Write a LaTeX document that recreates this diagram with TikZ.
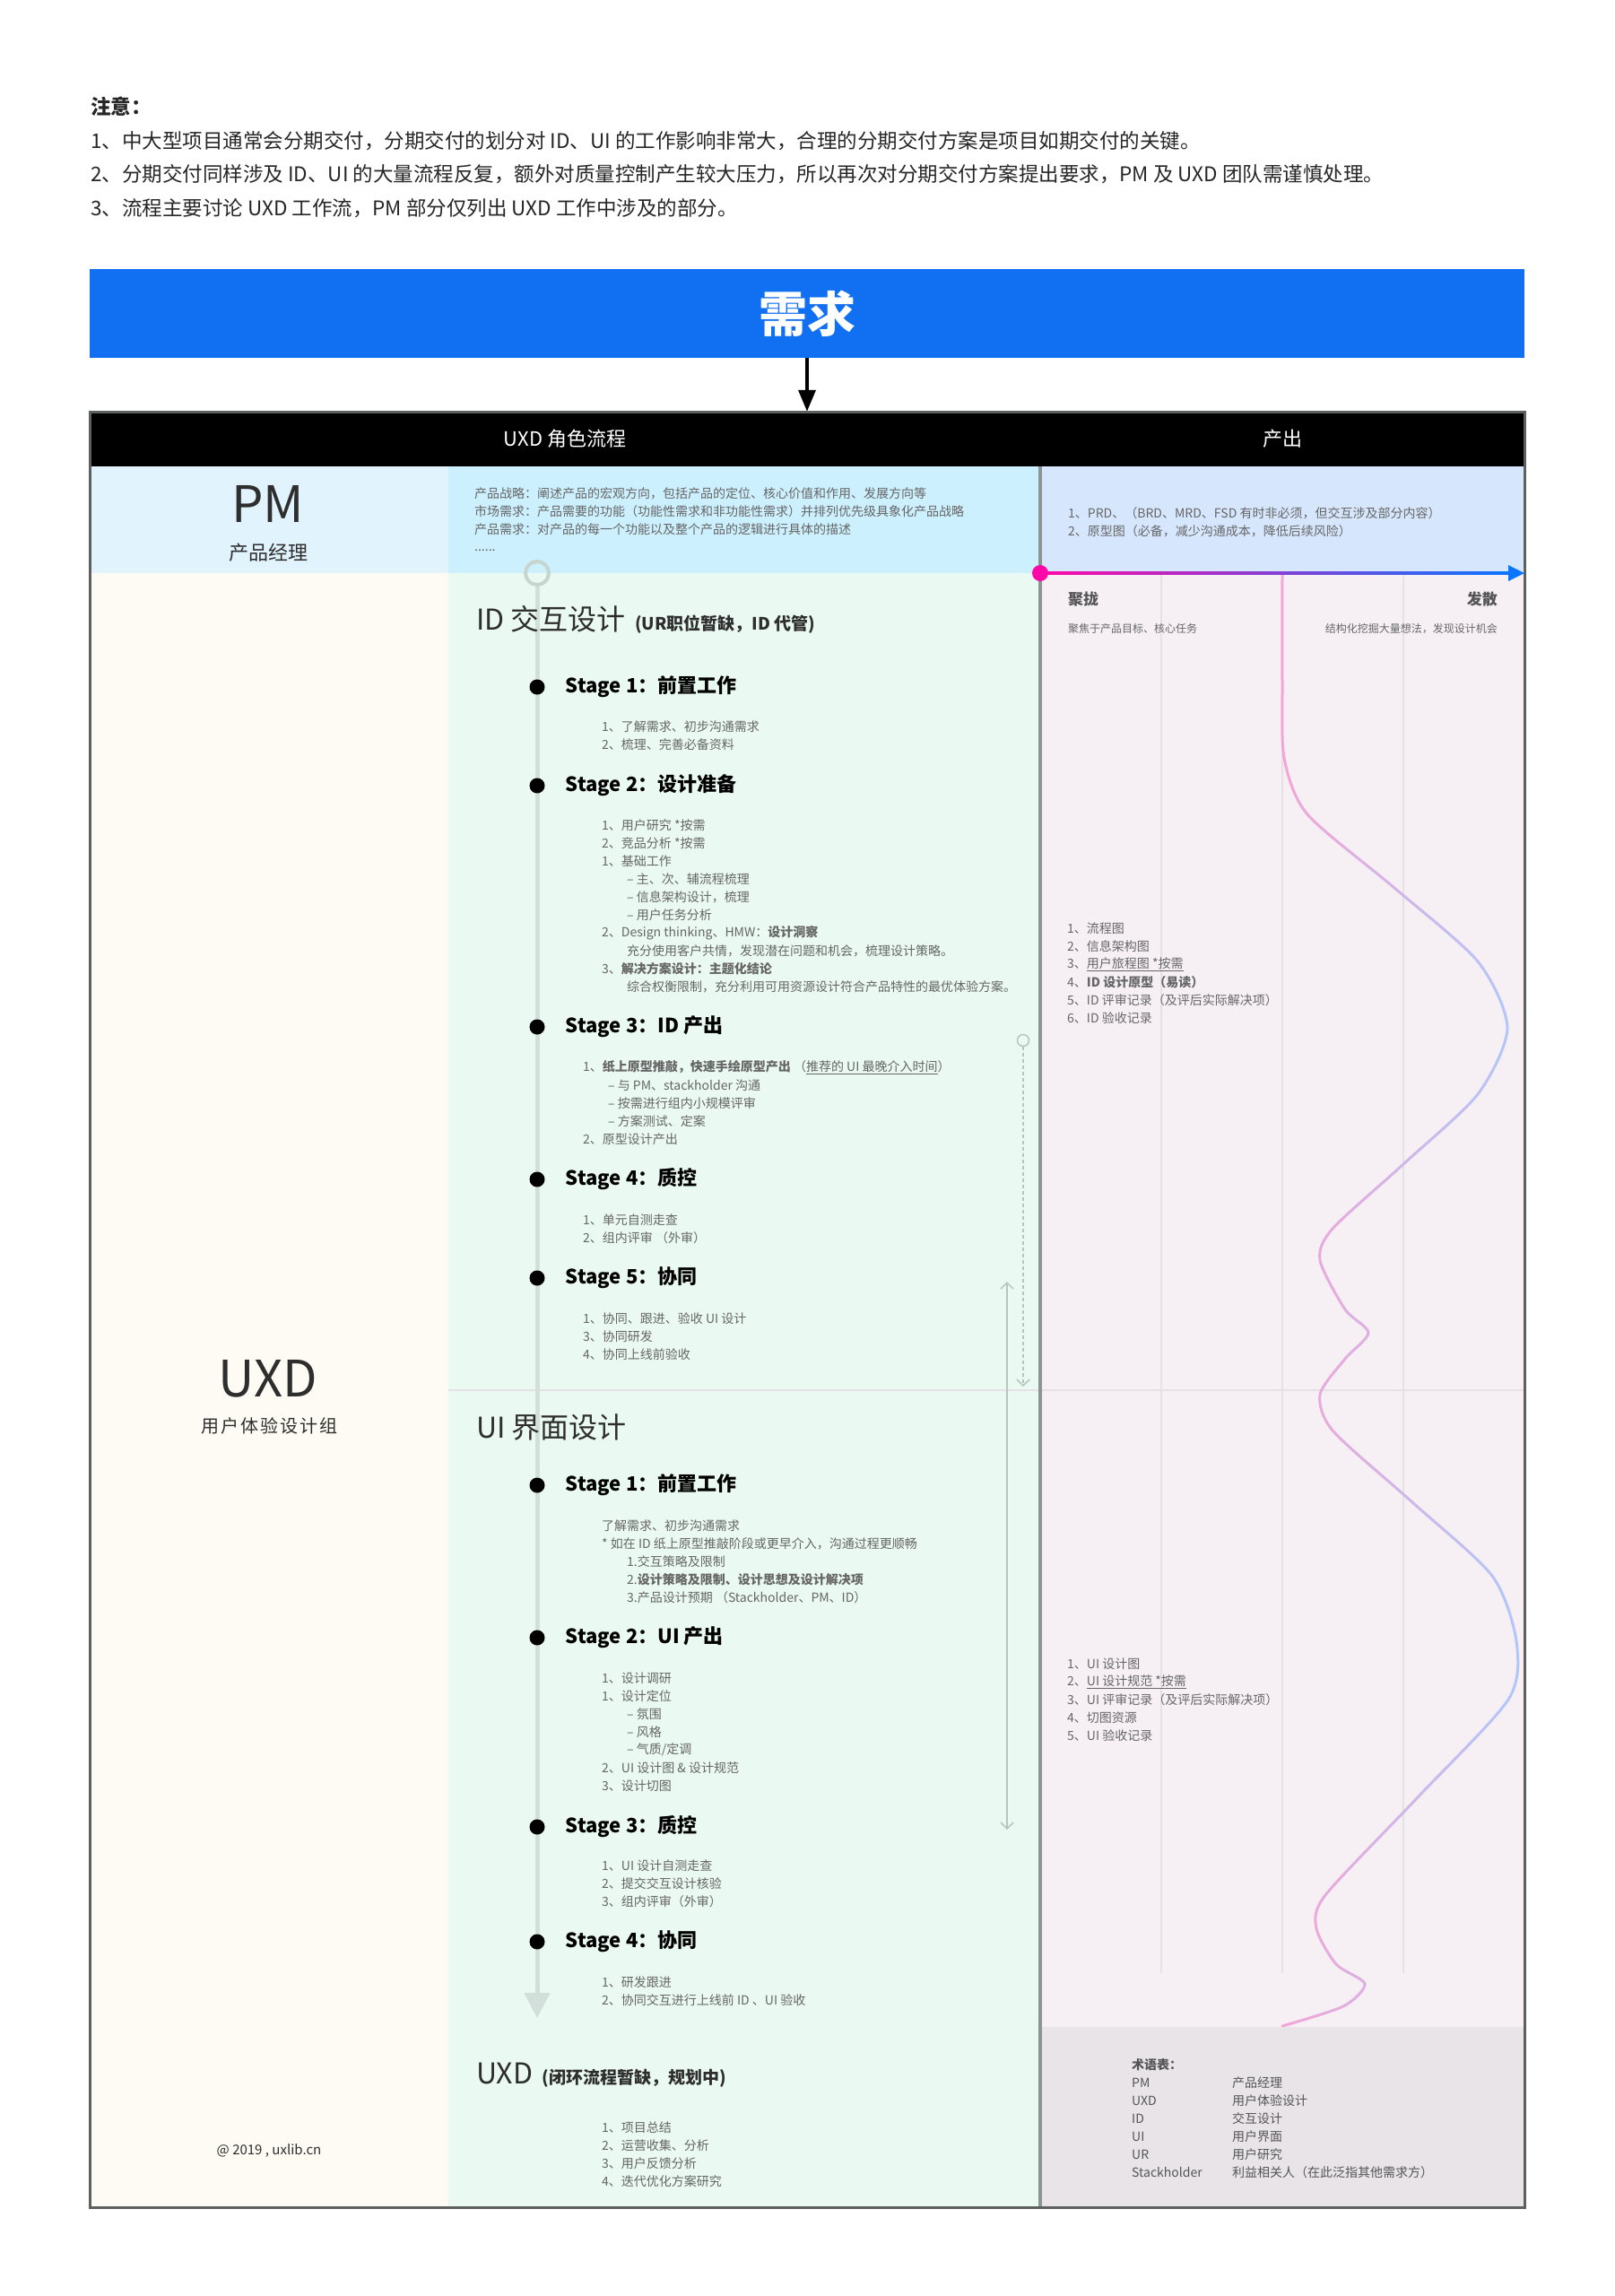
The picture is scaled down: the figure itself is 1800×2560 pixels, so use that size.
\documentclass[tikz,border=0pt]{standalone}
\usepackage{fontspec}
\setmainfont{Noto Sans CJK SC}
\usepackage{tikz}
\usetikzlibrary{positioning, arrows.meta, calc}

\definecolor{reqblue}{HTML}{1170F2}
\definecolor{pmleft}{HTML}{E1F3FD}
\definecolor{pmmid}{HTML}{CCF0FD}
\definecolor{pmright}{HTML}{D6E6FC}
\definecolor{colleft}{HTML}{FDFBF3}
\definecolor{colmid}{HTML}{EAF9F2}
\definecolor{colright}{HTML}{F6F0F5}
\definecolor{glossbg}{HTML}{E8E4E7}
\definecolor{tlgray}{HTML}{D3DFDA}
\definecolor{ringgray}{HTML}{C7D4CF}
\definecolor{guidegray}{HTML}{B8C5C0}
\definecolor{textgray}{HTML}{666666}
\definecolor{darktext}{HTML}{2E2E2E}
\definecolor{labelgray}{HTML}{555555}
\definecolor{sepgray}{HTML}{8E9494}
\definecolor{bordergray}{HTML}{5E6060}
\definecolor{faintline}{HTML}{E6E1E5}
\definecolor{wavepink}{HTML}{F3A5D6}
\definecolor{waveblue}{HTML}{B3C6F8}
\definecolor{fmagenta}{HTML}{FF08A8}
\definecolor{fblue}{HTML}{0A76FF}

\newcommand{\pxsize}[1]{\fontsize{#1}{#1}\selectfont}
\newcommand{\subind}{\hspace*{28pt}}
\newcommand{\wavecurve}{plot[smooth, tension=0.45] coordinates {(1430,639) (1430,760) (1432,845) (1458,908) (1555,990) (1648,1072) (1681,1146) (1648,1220) (1565,1298) (1486,1370) (1472,1405) (1500,1460) (1526,1486) (1500,1515) (1472,1555) (1487,1596) (1575,1675) (1664,1757) (1691,1830) (1682,1895) (1580,2005) (1478,2113) (1468,2150) (1490,2190) (1522,2212) (1498,2237) (1430,2259)}}

\begin{document}
\begin{tikzpicture}[x=1pt, y=-1pt, >=Stealth,
    note/.style={anchor=west, inner sep=0, font=\pxsize{22.5}, text=black!85},
    item/.style={anchor=west, inner sep=0, font=\pxsize{14}, text=textgray},
    stagehead/.style={inner sep=0, font=\pxsize{22}\bfseries, text=black},
    stagedot/.style={circle, fill=black, inner sep=0, minimum size=17pt},
    sechead/.style={anchor=west, inner sep=0, font=\pxsize{32}, text=darktext},
    secnote/.style={inner sep=0, font=\pxsize{19}\bfseries, text=darktext},
    headtext/.style={inner sep=0, font=\pxsize{22}, text=white},
    rolebig/.style={inner sep=0, font=\pxsize{56}, text=darktext},
    rolesub/.style={inner sep=0, font=\pxsize{22}, text=darktext},
    guide/.style={draw=guidegray, line width=1.5pt},
    faint/.style={draw=faintline, line width=1.5pt},
    wave/.style={line width=3pt, line cap=round}]

    \useasboundingbox (0,0) rectangle (1800,2560);
    \fill[white] (0,0) rectangle (1800,2560);

    % notes
    \node[note, font=\pxsize{22.5}\bfseries] (notehead) at (101,119) {注意：};
    \node[note] (note1) at (101,157) {1、中大型项目通常会分期交付，分期交付的划分对 ID、UI 的工作影响非常大，合理的分期交付方案是项目如期交付的关键。};
    \node[note] (note2) at (101,194) {2、分期交付同样涉及 ID、UI 的大量流程反复，额外对质量控制产生较大压力，所以再次对分期交付方案提出要求，PM 及 UXD 团队需谨慎处理。};
    \node[note] (note3) at (101,232) {3、流程主要讨论 UXD 工作流，PM 部分仅列出 UXD 工作中涉及的部分。};

    % requirement bar
    \node[fill=reqblue, minimum width=1600pt, minimum height=99pt, inner sep=0, font=\pxsize{54}\bfseries, text=white] (req) at (900,349.5) {需求};

    % table cells
    \fill[pmleft] (100,520) rectangle (500,639);
    \fill[pmmid] (500,520) rectangle (1160,639);
    \fill[pmright] (1160,520) rectangle (1700,639);
    \fill[colleft] (100,639) rectangle (500,2461);
    \fill[colmid] (500,639) rectangle (1160,2461);
    \fill[colright] (1160,639) rectangle (1700,2260);
    \fill[glossbg] (1160,2260) rectangle (1700,2461);
    \node[fill=black, minimum width=1600pt, minimum height=61pt, inner sep=0] (head) at (900,489.5) {};
    \node[headtext] (headflow) at (630,489.5) {UXD 角色流程};
    \node[headtext] (headout) at (1430,489.5) {产出};
    \draw[line width=3.5pt, -{Triangle[length=24pt, width=19pt]}] (req) -- (head);

    % faint grid
    \draw[faint] (500,1550) -- (1700,1550);
    \foreach \gx in {1295,1430,1565}
        \draw[faint] (\gx,639) -- (\gx,2200);

    % wave, pink to blue
    \foreach \i in {0,...,9} {
        \begin{scope}
            \clip (1416+28*\i,630) rectangle (1444+28*\i,2262);
            \pgfmathtruncatemacro\mixval{100-11*\i}
            \draw[wave, draw=wavepink!\mixval!waveblue] \wavecurve;
        \end{scope}
    }

    % separator and border
    \draw[sepgray, line width=4pt] (1160,520) -- (1160,2461);
    \draw[bordergray, line width=3pt] (100,459) rectangle (1700,2461);

    % gather / spread arrow
    \coordinate (fstart) at (1160,639);
    \coordinate (fend) at (1700,639);
    \shade[left color=fmagenta, right color=fblue] ($(fstart)+(0,-1.5)$) rectangle ($(fend)+(-16,1.5)$);
    \fill[fblue] ($(fend)+(-18,-9)$) -- (fend) -- ($(fend)+(-18,9)$) -- cycle;
    \node[circle, fill=fmagenta, minimum size=18pt, inner sep=0] (fdot) at (fstart) {};

    \node[anchor=west, inner sep=0, font=\pxsize{17}\bfseries, text=labelgray] (gather) at (1191,668) {聚拢};
    \node[anchor=west, inner sep=0, font=\pxsize{12}, text=textgray] (gathernote) at (1191,701) {聚焦于产品目标、核心任务};
    \node[anchor=east, inner sep=0, font=\pxsize{17}\bfseries, text=labelgray] (spread) at (1670,668) {发散};
    \node[anchor=east, inner sep=0, font=\pxsize{12}, text=textgray] (spreadnote) at (1670,701) {结构化挖掘大量想法，发现设计机会};

    % left column
    \node[rolebig] (pmlabel) at (299,562) {PM};
    \node[rolesub] (pmsub) at (299,616) {产品经理};
    \node[rolebig] (uxdlabel) at (299,1537) {UXD};
    \node[rolesub, font=\pxsize{20}\addfontfeature{LetterSpace=10}] (uxdsub) at (300,1590) {用户体验设计组};
    \node[inner sep=0, font=\pxsize{15}, text=darktext] (copy) at (300,2398) {@ 2019 , uxlib.cn};

    % PM row
    \foreach \txt [count=\n from 0] in {{产品战略：阐述产品的宏观方向，包括产品的定位、核心价值和作用、发展方向等}, {市场需求：产品需要的功能（功能性需求和非功能性需求）并排列优先级具象化产品战略}, {产品需求：对产品的每一个功能以及整个产品的逻辑进行具体的描述}}
        \node[item] (pmtxt\n) at (529,550+20*\n) {\txt};
    \node[item] (pmdots) at (529,614) {......};
    \node[item] (pmout1) at (1191,572) {1、PRD、（BRD、MRD、FSD 有时非必须，但交互涉及部分内容）};
    \node[item] (pmout2) at (1191,592) {2、原型图（必备，减少沟通成本，降低后续风险）};

    % timeline
    \node[circle, draw=ringgray, line width=4pt, minimum size=26pt, inner sep=0] (tltop) at (599,639) {};
    \coordinate (tlend) at (599,2250);
    \draw[draw=tlgray, line width=5pt, -{Triangle[length=28pt, width=28pt]}] (tltop) -- (tlend);

    % ID section
    \node[sechead] (idhead) at (531,690) {ID 交互设计};
    \node[secnote, base right=10pt of idhead] (idnote) {(UR职位暂缺，ID 代管)};
    \foreach \sy/\st [count=\n] in {766/{Stage 1：前置工作}, 876/{Stage 2：设计准备}, 1145/{Stage 3：ID 产出}, 1315/{Stage 4：质控}, 1425/{Stage 5：协同}} {
        \node[stagedot] (ids\n) at (599,\sy) {};
        \node[stagehead, right=23pt of ids\n] (idst\n) {\st};
    }
    \foreach \txt [count=\n from 0] in {{1、了解需求、初步沟通需求}, {2、梳理、完善必备资料}}
        \node[item] (ida\n) at (671,810+20*\n) {\txt};
    \foreach \txt [count=\n from 0] in {{1、用户研究 *按需}, {2、竞品分析 *按需}, {1、基础工作}, {\subind – 主、次、辅流程梳理}, {\subind – 信息架构设计，梳理}, {\subind – 用户任务分析}, {2、Design thinking、HMW：\textbf{设计洞察}}, {\subind 充分使用客户共情，发现潜在问题和机会，梳理设计策略。}, {3、\textbf{解决方案设计：主题化结论}}, {\subind 综合权衡限制，充分利用可用资源设计符合产品特性的最优体验方案。}}
        \node[item] (idb\n) at (671,920+20*\n) {\txt};
    \foreach \txt [count=\n from 0] in {{1、\textbf{纸上原型推敲，快速手绘原型产出} （\underline{推荐的 UI 最晚介入时间}）}, {\subind – 与 PM、stackholder 沟通}, {\subind – 按需进行组内小规模评审}, {\subind – 方案测试、定案}, {2、原型设计产出}}
        \node[item] (idc\n) at (650,1190+20*\n) {\txt};
    \foreach \txt [count=\n from 0] in {{1、单元自测走查}, {2、组内评审 （外审）}}
        \node[item] (idd\n) at (650,1360+20*\n) {\txt};
    \foreach \txt [count=\n from 0] in {{1、协同、跟进、验收 UI 设计}, {3、协同研发}, {4、协同上线前验收}}
        \node[item] (ide\n) at (650,1470+20*\n) {\txt};

    % UI section
    \node[sechead] (uihead) at (531,1591) {UI 界面设计};
    \foreach \sy/\st [count=\n] in {1656/{Stage 1：前置工作}, 1826/{Stage 2：UI 产出}, 2037/{Stage 3：质控}, 2165/{Stage 4：协同}} {
        \node[stagedot] (uis\n) at (599,\sy) {};
        \node[stagehead, right=23pt of uis\n] (uist\n) {\st};
    }
    \foreach \txt [count=\n from 0] in {{了解需求、初步沟通需求}, {* 如在 ID 纸上原型推敲阶段或更早介入，沟通过程更顺畅}, {\subind 1.交互策略及限制}, {\subind 2.\textbf{设计策略及限制、设计思想及设计解决项}}, {\subind 3.产品设计预期 （Stackholder、PM、ID）}}
        \node[item] (uia\n) at (671,1701+20*\n) {\txt};
    \foreach \txt [count=\n from 0] in {{1、设计调研}, {1、设计定位}, {\subind – 氛围}, {\subind – 风格}, {\subind – 气质/定调}, {2、UI 设计图 \& 设计规范}, {3、设计切图}}
        \node[item] (uib\n) at (671,1871+20*\n) {\txt};
    \foreach \txt [count=\n from 0] in {{1、UI 设计自测走查}, {2、提交交互设计核验}, {3、组内评审（外审）}}
        \node[item] (uic\n) at (671,2080+20*\n) {\txt};
    \foreach \txt [count=\n from 0] in {{1、研发跟进}, {2、协同交互进行上线前 ID 、UI 验收}}
        \node[item] (uid\n) at (671,2210+20*\n) {\txt};

    % UXD section
    \node[sechead] (uxdhead) at (531,2312) {UXD};
    \node[secnote, base right=10pt of uxdhead] (uxdnote) {(闭环流程暂缺，规划中)};
    \foreach \txt [count=\n from 0] in {{1、项目总结}, {2、运营收集、分析}, {3、用户反馈分析}, {4、迭代优化方案研究}}
        \node[item] (uxda\n) at (671,2372+20*\n) {\txt};

    % UI entry guides
    \node[circle, draw=guidegray, line width=1.5pt, minimum size=13pt, inner sep=0] (dtop) at (1141,1160) {};
    \coordinate (dend) at (1141,1546);
    \draw[guide, dash pattern=on 4pt off 3pt, -{Straight Barb[length=7pt, width=14pt]}] (dtop) -- (dend);
    \coordinate (spanup) at (1123,1429);
    \coordinate (spandown) at (1123,2040);
    \draw[guide, {Straight Barb[length=7pt, width=14pt]}-{Straight Barb[length=7pt, width=14pt]}] (spanup) -- (spandown);

    % outputs
    \foreach \txt [count=\n from 0] in {{1、流程图}, {2、信息架构图}, {3、\underline{用户旅程图 *按需}}, {4、\textbf{ID 设计原型（易读）}}, {5、ID 评审记录（及评后实际解决项）}, {6、ID 验收记录}}
        \node[item] (idout\n) at (1190,1035+20*\n) {\txt};
    \foreach \txt [count=\n from 0] in {{1、UI 设计图}, {2、\underline{UI 设计规范 *按需}}, {3、UI 评审记录（及评后实际解决项）}, {4、切图资源}, {5、UI 验收记录}}
        \node[item] (uiout\n) at (1190,1855+20*\n) {\txt};

    % glossary
    \node[anchor=west, inner sep=0, font=\pxsize{14}\bfseries, text=labelgray] (glosshead) at (1262,2302) {术语表：};
    \foreach \term/\desc [count=\n from 0] in {PM/产品经理, UXD/用户体验设计, ID/交互设计, UI/用户界面, UR/用户研究, Stackholder/利益相关人（在此泛指其他需求方）} {
        \node[item, text=labelgray] (term\n) at (1262,2322+20*\n) {\term};
        \node[item, text=labelgray] (desc\n) at (1374,2322+20*\n) {\desc};
    }
\end{tikzpicture}
\end{document}
